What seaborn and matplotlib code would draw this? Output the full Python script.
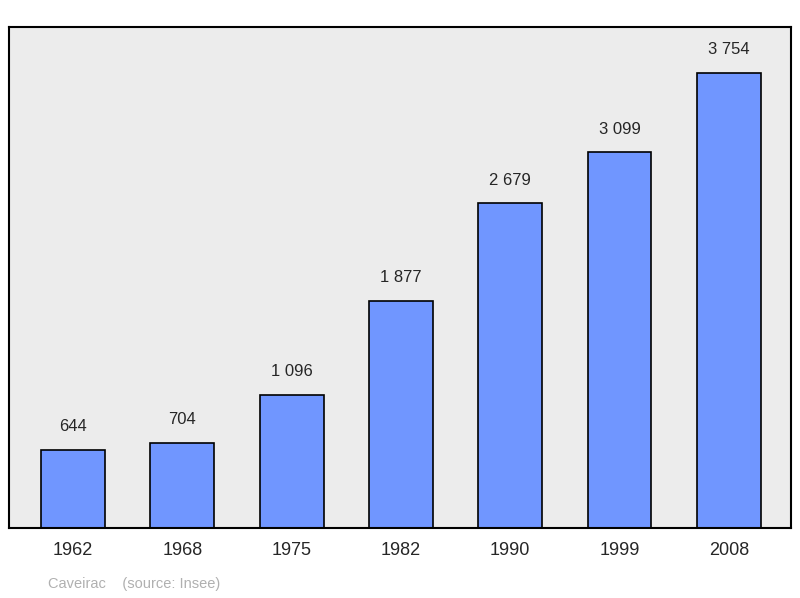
import matplotlib
matplotlib.use("Agg")
import matplotlib.pyplot as plt
import seaborn as sns
import pandas as pd

years = ["1962", "1968", "1975", "1982", "1990", "1999", "2008"]
population = [644, 704, 1096, 1877, 2679, 3099, 3754]

df = pd.DataFrame({"year": years, "pop": population})

sns.set_style("white")
plt.rcParams["font.family"] = ["Liberation Sans", "DejaVu Sans"]

fig = plt.figure(figsize=(8, 5.98), dpi=100)
ax = fig.add_axes([9 / 800, 1 - 528 / 598, 782 / 800, 501 / 598])
ax.set_facecolor("#ececec")

sns.barplot(data=df, x="year", y="pop", color="#7096ff", saturation=1,
            width=0.585, edgecolor="black", linewidth=1.2, ax=ax)

for i, v in enumerate(population):
    ax.text(i, v + 130, f"{v:,}".replace(",", " "), ha="center", va="bottom", fontsize=12)

ax.set_xlim(-0.586, 6.569)
ax.set_ylim(0, 4134)
ax.set_yticks([])
ax.set_xlabel("")
ax.set_ylabel("")
ax.tick_params(axis="x", length=0, labelsize=13, pad=10)
for s in ax.spines.values():
    s.set_linewidth(1.5)
    s.set_color("black")

fig.text(48 / 800, 1 - 584 / 598, "Caveirac    (source: Insee)", color="#b0b0b0",
         fontsize=10.5, va="center")

fig.savefig("out.png", dpi=100)
